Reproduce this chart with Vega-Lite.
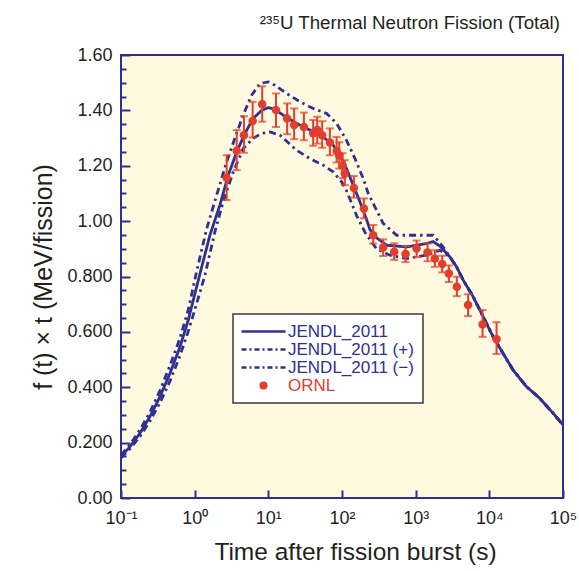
{
  "$schema": "https://vega.github.io/schema/vega-lite/v6.json",
  "width": 442,
  "height": 443,
  "autosize": {"type": "none"},
  "padding": {"left": 121, "top": 55, "right": 16, "bottom": 73},
  "background": "white",
  "title": {"text": "²³⁵U Thermal Neutron Fission (Total)", "anchor": "end", "frame": "group", "font": "Liberation Sans", "fontSize": 18.7, "fontWeight": "normal", "color": "#231f20", "baseline": "alphabetic", "offset": -2, "dx": -3},
  "config": {
    "font": "Liberation Sans",
    "view": {"fill": "#fffadf", "stroke": "#2e3192", "strokeWidth": 2}
  },
  "datasets": {
    "lines": [
      {"series": "JENDL_2011", "t": 0.1, "v": 0.15},
      {"series": "JENDL_2011", "t": 0.132, "v": 0.185},
      {"series": "JENDL_2011", "t": 0.181, "v": 0.234},
      {"series": "JENDL_2011", "t": 0.247, "v": 0.294},
      {"series": "JENDL_2011", "t": 0.338, "v": 0.366},
      {"series": "JENDL_2011", "t": 0.462, "v": 0.45},
      {"series": "JENDL_2011", "t": 0.632, "v": 0.546},
      {"series": "JENDL_2011", "t": 0.819, "v": 0.643},
      {"series": "JENDL_2011", "t": 1.01, "v": 0.739},
      {"series": "JENDL_2011", "t": 1.18, "v": 0.81},
      {"series": "JENDL_2011", "t": 1.61, "v": 0.949},
      {"series": "JENDL_2011", "t": 2.2, "v": 1.058},
      {"series": "JENDL_2011", "t": 2.86, "v": 1.166},
      {"series": "JENDL_2011", "t": 3.72, "v": 1.25},
      {"series": "JENDL_2011", "t": 4.82, "v": 1.317},
      {"series": "JENDL_2011", "t": 6.24, "v": 1.371},
      {"series": "JENDL_2011", "t": 8.11, "v": 1.4},
      {"series": "JENDL_2011", "t": 9.97, "v": 1.41},
      {"series": "JENDL_2011", "t": 12.0, "v": 1.405},
      {"series": "JENDL_2011", "t": 15.9, "v": 1.383},
      {"series": "JENDL_2011", "t": 24.2, "v": 1.353},
      {"series": "JENDL_2011", "t": 36.7, "v": 1.329},
      {"series": "JENDL_2011", "t": 55.6, "v": 1.304},
      {"series": "JENDL_2011", "t": 76.0, "v": 1.274},
      {"series": "JENDL_2011", "t": 93.6, "v": 1.238},
      {"series": "JENDL_2011", "t": 115, "v": 1.19},
      {"series": "JENDL_2011", "t": 142, "v": 1.13},
      {"series": "JENDL_2011", "t": 175, "v": 1.07},
      {"series": "JENDL_2011", "t": 216, "v": 1.005},
      {"series": "JENDL_2011", "t": 239, "v": 0.97},
      {"series": "JENDL_2011", "t": 294, "v": 0.94},
      {"series": "JENDL_2011", "t": 403, "v": 0.913},
      {"series": "JENDL_2011", "t": 753, "v": 0.907},
      {"series": "JENDL_2011", "t": 1140, "v": 0.915},
      {"series": "JENDL_2011", "t": 1406, "v": 0.919},
      {"series": "JENDL_2011", "t": 1727, "v": 0.926},
      {"series": "JENDL_2011", "t": 2128, "v": 0.91},
      {"series": "JENDL_2011", "t": 2910, "v": 0.871},
      {"series": "JENDL_2011", "t": 3589, "v": 0.835},
      {"series": "JENDL_2011", "t": 4416, "v": 0.787},
      {"series": "JENDL_2011", "t": 6030, "v": 0.727},
      {"series": "JENDL_2011", "t": 8240, "v": 0.655},
      {"series": "JENDL_2011", "t": 11270, "v": 0.582},
      {"series": "JENDL_2011", "t": 15390, "v": 0.522},
      {"series": "JENDL_2011", "t": 21040, "v": 0.462},
      {"series": "JENDL_2011", "t": 31990, "v": 0.402},
      {"series": "JENDL_2011", "t": 48430, "v": 0.36},
      {"series": "JENDL_2011", "t": 73450, "v": 0.306},
      {"series": "JENDL_2011", "t": 100000, "v": 0.264},

      {"series": "JENDL_2011 (+)", "t": 0.1, "v": 0.155},
      {"series": "JENDL_2011 (+)", "t": 0.132, "v": 0.193},
      {"series": "JENDL_2011 (+)", "t": 0.181, "v": 0.246},
      {"series": "JENDL_2011 (+)", "t": 0.247, "v": 0.31},
      {"series": "JENDL_2011 (+)", "t": 0.338, "v": 0.388},
      {"series": "JENDL_2011 (+)", "t": 0.462, "v": 0.478},
      {"series": "JENDL_2011 (+)", "t": 0.632, "v": 0.578},
      {"series": "JENDL_2011 (+)", "t": 0.819, "v": 0.68},
      {"series": "JENDL_2011 (+)", "t": 1.06, "v": 0.817},
      {"series": "JENDL_2011 (+)", "t": 1.46, "v": 0.974},
      {"series": "JENDL_2011 (+)", "t": 1.99, "v": 1.094},
      {"series": "JENDL_2011 (+)", "t": 2.72, "v": 1.214},
      {"series": "JENDL_2011 (+)", "t": 3.52, "v": 1.3},
      {"series": "JENDL_2011 (+)", "t": 4.56, "v": 1.383},
      {"series": "JENDL_2011 (+)", "t": 5.93, "v": 1.455},
      {"series": "JENDL_2011 (+)", "t": 7.69, "v": 1.497},
      {"series": "JENDL_2011 (+)", "t": 9.98, "v": 1.503},
      {"series": "JENDL_2011 (+)", "t": 12.3, "v": 1.491},
      {"series": "JENDL_2011 (+)", "t": 17.7, "v": 1.461},
      {"series": "JENDL_2011 (+)", "t": 26.9, "v": 1.431},
      {"series": "JENDL_2011 (+)", "t": 40.6, "v": 1.407},
      {"series": "JENDL_2011 (+)", "t": 61.8, "v": 1.389},
      {"series": "JENDL_2011 (+)", "t": 84.5, "v": 1.353},
      {"series": "JENDL_2011 (+)", "t": 115, "v": 1.292},
      {"series": "JENDL_2011 (+)", "t": 150, "v": 1.226},
      {"series": "JENDL_2011 (+)", "t": 194, "v": 1.154},
      {"series": "JENDL_2011 (+)", "t": 227, "v": 1.1},
      {"series": "JENDL_2011 (+)", "t": 294, "v": 1.04},
      {"series": "JENDL_2011 (+)", "t": 362, "v": 0.992},
      {"series": "JENDL_2011 (+)", "t": 551, "v": 0.949},
      {"series": "JENDL_2011 (+)", "t": 1140, "v": 0.949},
      {"series": "JENDL_2011 (+)", "t": 1727, "v": 0.949},
      {"series": "JENDL_2011 (+)", "t": 2360, "v": 0.907},
      {"series": "JENDL_2011 (+)", "t": 2910, "v": 0.871},
      {"series": "JENDL_2011 (+)", "t": 3589, "v": 0.835},
      {"series": "JENDL_2011 (+)", "t": 4416, "v": 0.787},
      {"series": "JENDL_2011 (+)", "t": 6030, "v": 0.727},
      {"series": "JENDL_2011 (+)", "t": 8240, "v": 0.655},
      {"series": "JENDL_2011 (+)", "t": 11270, "v": 0.582},
      {"series": "JENDL_2011 (+)", "t": 15390, "v": 0.522},
      {"series": "JENDL_2011 (+)", "t": 21040, "v": 0.462},
      {"series": "JENDL_2011 (+)", "t": 31990, "v": 0.402},
      {"series": "JENDL_2011 (+)", "t": 48430, "v": 0.36},
      {"series": "JENDL_2011 (+)", "t": 73450, "v": 0.306},
      {"series": "JENDL_2011 (+)", "t": 100000, "v": 0.264},

      {"series": "JENDL_2011 (−)", "t": 0.1, "v": 0.145},
      {"series": "JENDL_2011 (−)", "t": 0.132, "v": 0.177},
      {"series": "JENDL_2011 (−)", "t": 0.181, "v": 0.222},
      {"series": "JENDL_2011 (−)", "t": 0.247, "v": 0.278},
      {"series": "JENDL_2011 (−)", "t": 0.338, "v": 0.344},
      {"series": "JENDL_2011 (−)", "t": 0.462, "v": 0.422},
      {"series": "JENDL_2011 (−)", "t": 0.632, "v": 0.514},
      {"series": "JENDL_2011 (−)", "t": 0.819, "v": 0.602},
      {"series": "JENDL_2011 (−)", "t": 1.01, "v": 0.682},
      {"series": "JENDL_2011 (−)", "t": 1.38, "v": 0.805},
      {"series": "JENDL_2011 (−)", "t": 1.88, "v": 0.961},
      {"series": "JENDL_2011 (−)", "t": 2.44, "v": 1.07},
      {"series": "JENDL_2011 (−)", "t": 3.34, "v": 1.178},
      {"series": "JENDL_2011 (−)", "t": 4.56, "v": 1.262},
      {"series": "JENDL_2011 (−)", "t": 6.24, "v": 1.299},
      {"series": "JENDL_2011 (−)", "t": 8.11, "v": 1.317},
      {"series": "JENDL_2011 (−)", "t": 10.5, "v": 1.322},
      {"series": "JENDL_2011 (−)", "t": 14.4, "v": 1.31},
      {"series": "JENDL_2011 (−)", "t": 24.2, "v": 1.256},
      {"series": "JENDL_2011 (−)", "t": 36.7, "v": 1.226},
      {"series": "JENDL_2011 (−)", "t": 55.6, "v": 1.202},
      {"series": "JENDL_2011 (−)", "t": 76.0, "v": 1.178},
      {"series": "JENDL_2011 (−)", "t": 98.8, "v": 1.142},
      {"series": "JENDL_2011 (−)", "t": 115, "v": 1.11},
      {"series": "JENDL_2011 (−)", "t": 128, "v": 1.08},
      {"series": "JENDL_2011 (−)", "t": 158, "v": 1.02},
      {"series": "JENDL_2011 (−)", "t": 205, "v": 0.96},
      {"series": "JENDL_2011 (−)", "t": 294, "v": 0.9},
      {"series": "JENDL_2011 (−)", "t": 447, "v": 0.877},
      {"series": "JENDL_2011 (−)", "t": 753, "v": 0.865},
      {"series": "JENDL_2011 (−)", "t": 1406, "v": 0.877},
      {"series": "JENDL_2011 (−)", "t": 2128, "v": 0.895},
      {"series": "JENDL_2011 (−)", "t": 2910, "v": 0.871},
      {"series": "JENDL_2011 (−)", "t": 3589, "v": 0.835},
      {"series": "JENDL_2011 (−)", "t": 4416, "v": 0.787},
      {"series": "JENDL_2011 (−)", "t": 6030, "v": 0.727},
      {"series": "JENDL_2011 (−)", "t": 8240, "v": 0.655},
      {"series": "JENDL_2011 (−)", "t": 11270, "v": 0.582},
      {"series": "JENDL_2011 (−)", "t": 15390, "v": 0.522},
      {"series": "JENDL_2011 (−)", "t": 21040, "v": 0.462},
      {"series": "JENDL_2011 (−)", "t": 31990, "v": 0.402},
      {"series": "JENDL_2011 (−)", "t": 48430, "v": 0.36},
      {"series": "JENDL_2011 (−)", "t": 73450, "v": 0.306},
      {"series": "JENDL_2011 (−)", "t": 100000, "v": 0.264}
    ],
    "ornl": [
      {"series": "ORNL", "t": 2.72, "v": 1.157, "lo": 1.076, "hi": 1.238},
      {"series": "ORNL", "t": 3.72, "v": 1.254, "lo": 1.184, "hi": 1.329},
      {"series": "ORNL", "t": 4.67, "v": 1.31, "lo": 1.247, "hi": 1.379},
      {"series": "ORNL", "t": 6.12, "v": 1.362, "lo": 1.302, "hi": 1.431},
      {"series": "ORNL", "t": 8.26, "v": 1.422, "lo": 1.359, "hi": 1.487},
      {"series": "ORNL", "t": 12.7, "v": 1.401, "lo": 1.34, "hi": 1.461},
      {"series": "ORNL", "t": 18.0, "v": 1.371, "lo": 1.314, "hi": 1.425},
      {"series": "ORNL", "t": 22.4, "v": 1.347, "lo": 1.296, "hi": 1.407},
      {"series": "ORNL", "t": 30.4, "v": 1.34, "lo": 1.292, "hi": 1.392},
      {"series": "ORNL", "t": 40.6, "v": 1.317, "lo": 1.272, "hi": 1.365},
      {"series": "ORNL", "t": 46.1, "v": 1.329, "lo": 1.28, "hi": 1.377},
      {"series": "ORNL", "t": 53.8, "v": 1.31, "lo": 1.265, "hi": 1.361},
      {"series": "ORNL", "t": 68.5, "v": 1.284, "lo": 1.238, "hi": 1.335},
      {"series": "ORNL", "t": 84.5, "v": 1.253, "lo": 1.212, "hi": 1.304},
      {"series": "ORNL", "t": 91.7, "v": 1.238, "lo": 1.19, "hi": 1.285},
      {"series": "ORNL", "t": 102, "v": 1.2, "lo": 1.155, "hi": 1.245},
      {"series": "ORNL", "t": 109, "v": 1.172, "lo": 1.13, "hi": 1.22},
      {"series": "ORNL", "t": 145, "v": 1.12, "lo": 1.085, "hi": 1.163},
      {"series": "ORNL", "t": 198, "v": 1.046, "lo": 1.01, "hi": 1.082},
      {"series": "ORNL", "t": 265, "v": 0.949, "lo": 0.919, "hi": 0.986},
      {"series": "ORNL", "t": 362, "v": 0.905, "lo": 0.874, "hi": 0.934},
      {"series": "ORNL", "t": 511, "v": 0.889, "lo": 0.86, "hi": 0.92},
      {"series": "ORNL", "t": 729, "v": 0.881, "lo": 0.852, "hi": 0.91},
      {"series": "ORNL", "t": 1029, "v": 0.901, "lo": 0.87, "hi": 0.93},
      {"series": "ORNL", "t": 1449, "v": 0.887, "lo": 0.855, "hi": 0.92},
      {"series": "ORNL", "t": 1820, "v": 0.865, "lo": 0.835, "hi": 0.895},
      {"series": "ORNL", "t": 2290, "v": 0.845, "lo": 0.815, "hi": 0.875},
      {"series": "ORNL", "t": 2820, "v": 0.811, "lo": 0.78, "hi": 0.84},
      {"series": "ORNL", "t": 3620, "v": 0.763, "lo": 0.729, "hi": 0.799},
      {"series": "ORNL", "t": 5150, "v": 0.697, "lo": 0.657, "hi": 0.736},
      {"series": "ORNL", "t": 8090, "v": 0.627, "lo": 0.582, "hi": 0.679},
      {"series": "ORNL", "t": 12530, "v": 0.573, "lo": 0.52, "hi": 0.635}
    ]
  },
  "encoding": {
    "x": {
      "field": "t", "type": "quantitative",
      "scale": {"type": "log", "domain": [0.1, 100000], "nice": false},
      "axis": {
        "title": "Time after fission burst (s)",
        "values": [0.1, 1, 10, 100, 1000, 10000, 100000],
        "labelExpr": "datum.value < 0.5 ? '10⁻¹' : datum.value < 5 ? '10⁰' : datum.value < 50 ? '10¹' : datum.value < 500 ? '10²' : datum.value < 5000 ? '10³' : datum.value < 50000 ? '10⁴' : '10⁵'",
        "grid": false, "domain": false,
        "tickSize": -8, "tickWidth": 2, "tickColor": "#2e3192",
        "labelFont": "Liberation Sans", "labelFontSize": 18, "labelColor": "#231f20",
        "labelPadding": 19, "labelOverlap": false, "labelFlush": false,
        "titleFont": "Liberation Sans", "titleFontSize": 24.5, "titleFontWeight": "normal", "titleColor": "#231f20",
        "titlePadding": 13, "titleX": 234
      }
    },
    "y": {
      "field": "v", "type": "quantitative",
      "scale": {"domain": [0, 1.6], "nice": false},
      "axis": {
        "title": "f (t) × t (MeV/fission)",
        "values": [0, 0.05, 0.1, 0.15, 0.2, 0.25, 0.3, 0.35, 0.4, 0.45, 0.5, 0.55, 0.6, 0.65, 0.7, 0.75, 0.8, 0.85, 0.9, 0.95, 1, 1.05, 1.1, 1.15, 1.2, 1.25, 1.3, 1.35, 1.4, 1.45, 1.5, 1.55, 1.6],
        "labelExpr": "abs(datum.value*5-round(datum.value*5))>0.001 ? '' : (datum.value>0.99 || datum.value<0.01 ? format(datum.value,'.2f') : format(datum.value,'.3f'))",
        "grid": false, "domain": false,
        "tickSize": {"condition": {"test": "abs(datum.value*5-round(datum.value*5))<0.001", "value": -9}, "value": -5},
        "tickWidth": 2, "tickColor": "#2e3192",
        "labelFont": "Liberation Sans", "labelFontSize": 18, "labelColor": "#231f20",
        "labelPadding": 18, "labelOverlap": false, "labelFlush": false,
        "titleFont": "Liberation Sans", "titleFontSize": 25, "titleFontWeight": "normal", "titleColor": "#231f20",
        "titlePadding": 10
      }
    }
  },
  "layer": [
    {
      "data": {"name": "lines"},
      "mark": {"type": "line", "strokeWidth": 2.8},
      "encoding": {
        "color": {
          "field": "series", "type": "nominal",
          "scale": {"domain": ["JENDL_2011", "JENDL_2011 (+)", "JENDL_2011 (−)", "ORNL"], "range": ["#2e3192", "#2e3192", "#2e3192", "#e23d2d"]},
          "legend": {
            "orient": "none", "legendX": 112, "legendY": 259, "title": null,
            "fillColor": "white", "strokeColor": "#3a3a3a", "padding": 9,
            "labelFont": "Liberation Sans", "labelFontSize": 17, "labelLimit": 300,
            "symbolType": "M-4.4,0H4.4", "symbolSize": 100, "symbolOffset": 13, "labelOffset": 16, "rowPadding": 0,
            "encode": {
              "legend": {"update": {"strokeWidth": {"value": 1.5}}},
              "symbols": {"update": {
                "shape": {"signal": "datum.value === 'ORNL' ? 'circle' : 'M-4.4,0H4.4'"},
                "size": {"signal": "datum.value === 'ORNL' ? 64 : 100"},
                "fill": {"signal": "datum.value === 'ORNL' ? '#e23d2d' : 'transparent'"},
                "stroke": {"signal": "datum.value === 'ORNL' ? '#e23d2d' : '#2e3192'"},
                "strokeWidth": {"signal": "datum.value === 'ORNL' ? 0 : 2.5"},
                "strokeDash": {"signal": "datum.value === 'JENDL_2011' || datum.value === 'ORNL' ? [1, 0] : [5, 3, 2, 3]"},
                "opacity": {"value": 1}
              }},
              "labels": {"update": {"fill": {"signal": "datum.value === 'ORNL' ? '#e23d2d' : '#2e3192'"}}}
            }
          }
        },
        "strokeDash": {
          "field": "series", "type": "nominal",
          "scale": {"domain": ["JENDL_2011", "JENDL_2011 (+)", "JENDL_2011 (−)"], "range": [[1, 0], [7, 4, 2.5, 4], [7, 4, 2.5, 4]]},
          "legend": null
        }
      }
    },
    {
      "data": {"name": "ornl"},
      "mark": {"type": "rule", "color": "#e23d2d", "strokeWidth": 2},
      "encoding": {"y": {"field": "lo", "type": "quantitative"}, "y2": {"field": "hi"}}
    },
    {
      "data": {"name": "ornl"},
      "mark": {"type": "tick", "orient": "horizontal", "color": "#e23d2d", "size": 8, "thickness": 2},
      "encoding": {"y": {"field": "lo", "type": "quantitative"}}
    },
    {
      "data": {"name": "ornl"},
      "mark": {"type": "tick", "orient": "horizontal", "color": "#e23d2d", "size": 8, "thickness": 2},
      "encoding": {"y": {"field": "hi", "type": "quantitative"}}
    },
    {
      "data": {"name": "ornl"},
      "mark": {"type": "circle", "size": 72, "opacity": 1},
      "encoding": {"color": {"field": "series", "type": "nominal"}}
    }
  ]
}
